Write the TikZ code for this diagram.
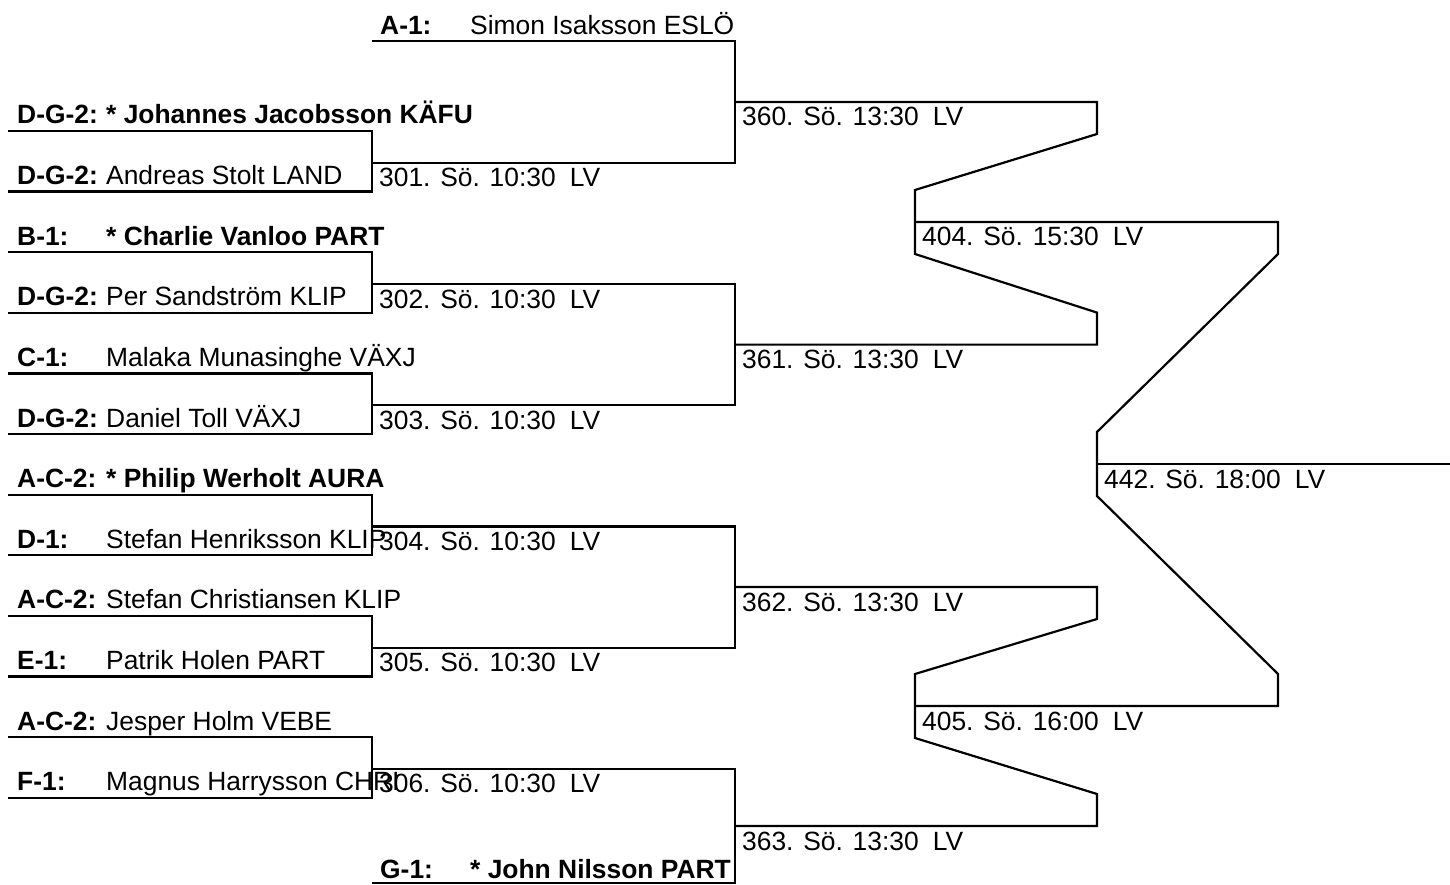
\documentclass[tikz,border=0pt]{standalone}
\usepackage{fontspec}
\setmainfont{Liberation Sans}
\tikzset{
  bar/.style={line width=2.2pt},
  txt/.style={anchor=base west, inner sep=0pt, font=\fontsize{26.4}{30}\selectfont},
  grp/.style={txt, font=\fontsize{26.4}{30}\selectfont\bfseries},
  player/.style={txt},
  seed/.style={grp},
  game/.style={txt}
}
\begin{document}
\begin{tikzpicture}[x=1pt, y=-1pt]
\useasboundingbox (0,0) rectangle (1450,885);
% slots
\coordinate (s1a) at (372,40.7); \coordinate (s1b) at (735,40.7);
\coordinate (s2a) at (8,131); \coordinate (s2b) at (372,131);
\coordinate (s3a) at (8,191.6); \coordinate (s3b) at (372,191.6);
\coordinate (s4a) at (8,252.2); \coordinate (s4b) at (372,252.2);
\coordinate (s5a) at (8,312.8); \coordinate (s5b) at (372,312.8);
\coordinate (s6a) at (8,373.4); \coordinate (s6b) at (372,373.4);
\coordinate (s7a) at (8,434); \coordinate (s7b) at (372,434);
\coordinate (s8a) at (8,494.6); \coordinate (s8b) at (372,494.6);
\coordinate (s9a) at (8,555.2); \coordinate (s9b) at (372,555.2);
\coordinate (s10a) at (8,615.8); \coordinate (s10b) at (372,615.8);
\coordinate (s11a) at (8,676.4); \coordinate (s11b) at (372,676.4);
\coordinate (s12a) at (8,737); \coordinate (s12b) at (372,737);
\coordinate (s13a) at (8,797.6); \coordinate (s13b) at (372,797.6);
\coordinate (s14a) at (372,883); \coordinate (s14b) at (735,883);
% games
\coordinate (m301a) at (372,162.8); \coordinate (m301b) at (735,162.8);
\coordinate (m302a) at (372,284); \coordinate (m302b) at (735,284);
\coordinate (m303a) at (372,405.2); \coordinate (m303b) at (735,405.2);
\coordinate (m304a) at (372,526.4); \coordinate (m304b) at (735,526.4);
\coordinate (m305a) at (372,647.6); \coordinate (m305b) at (735,647.6);
\coordinate (m306a) at (372,768.8); \coordinate (m306b) at (735,768.8);
\coordinate (m360a) at (735,102); \coordinate (m360b) at (1097,102);
\coordinate (m361a) at (735,344.6); \coordinate (m361b) at (1097,344.6);
\coordinate (m362a) at (735,587); \coordinate (m362b) at (1097,587);
\coordinate (m363a) at (735,826); \coordinate (m363b) at (1097,826);
\coordinate (m404a) at (915,222); \coordinate (m404b) at (1278,222);
\coordinate (m405a) at (915,706); \coordinate (m405b) at (1278,706);
\coordinate (m442a) at (1097,464); \coordinate (fin) at (1450,464);

% first round
\draw[bar] (s2a) -- (s2b) -- (s3b) -- (s3a);
\draw[bar] (s4a) -- (s4b) -- (s5b) -- (s5a);
\draw[bar] (s6a) -- (s6b) -- (s7b) -- (s7a);
\draw[bar] (s8a) -- (s8b) -- (s9b) -- (s9a);
\draw[bar] (s10a) -- (s10b) -- (s11b) -- (s11a);
\draw[bar] (s12a) -- (s12b) -- (s13b) -- (s13a);
% second round
\draw[bar] (s1a) -- (s1b) -- (m301b) -- (m301a);
\draw[bar] (m302a) -- (m302b) -- (m303b) -- (m303a);
\draw[bar] (m304a) -- (m304b) -- (m305b) -- (m305a);
\draw[bar] (m306a) -- (m306b) -- (s14b) -- (s14a);
% third round
\draw[bar] (m360a) -- (m360b) -- ++(0,32) -- ([yshift=32pt]m404a) -- ([yshift=-32pt]m404a) -- ([yshift=32pt]m361b) -- (m361b) -- (m361a);
\draw[bar] (m362a) -- (m362b) -- ++(0,32) -- ([yshift=32pt]m405a) -- ([yshift=-32pt]m405a) -- ([yshift=32pt]m363b) -- (m363b) -- (m363a);
% final
\draw[bar] (m404a) -- (m404b) -- ++(0,32) -- ([yshift=32pt]m442a) -- ([yshift=-32pt]m442a) -- ([yshift=32pt]m405b) -- (m405b) -- (m405a);
\draw[bar] (m442a) -- (fin);

% players
\node[grp] (g1) at ([shift={(8,-6)}]s1a) {A-1:};
\node[player] (p1) at ([shift={(98,-6)}]s1a) {Simon Isaksson ESLÖ};
\node[grp] (g2) at ([shift={(9,-7)}]s2a) {D-G-2:};
\node[seed] (p2) at ([shift={(98,-7)}]s2a) {* Johannes Jacobsson KÄFU};
\node[grp] (g3) at ([shift={(9,-7)}]s3a) {D-G-2:};
\node[player] (p3) at ([shift={(98,-7)}]s3a) {Andreas Stolt LAND};
\node[grp] (g4) at ([shift={(9,-7)}]s4a) {B-1:};
\node[seed] (p4) at ([shift={(98,-7)}]s4a) {* Charlie Vanloo PART};
\node[grp] (g5) at ([shift={(9,-7)}]s5a) {D-G-2:};
\node[player] (p5) at ([shift={(98,-7)}]s5a) {Per Sandström KLIP};
\node[grp] (g6) at ([shift={(9,-7)}]s6a) {C-1:};
\node[player] (p6) at ([shift={(98,-7)}]s6a) {Malaka Munasinghe VÄXJ};
\node[grp] (g7) at ([shift={(9,-7)}]s7a) {D-G-2:};
\node[player] (p7) at ([shift={(98,-7)}]s7a) {Daniel Toll VÄXJ};
\node[grp] (g8) at ([shift={(9,-7)}]s8a) {A-C-2:};
\node[seed] (p8) at ([shift={(98,-7)}]s8a) {* Philip Werholt AURA};
\node[grp] (g9) at ([shift={(9,-7)}]s9a) {D-1:};
\node[player] (p9) at ([shift={(98,-7)}]s9a) {Stefan Henriksson KLIP};
\node[grp] (g10) at ([shift={(9,-7)}]s10a) {A-C-2:};
\node[player] (p10) at ([shift={(98,-7)}]s10a) {Stefan Christiansen KLIP};
\node[grp] (g11) at ([shift={(9,-7)}]s11a) {E-1:};
\node[player] (p11) at ([shift={(98,-7)}]s11a) {Patrik Holen PART};
\node[grp] (g12) at ([shift={(9,-7)}]s12a) {A-C-2:};
\node[player] (p12) at ([shift={(98,-7)}]s12a) {Jesper Holm VEBE};
\node[grp] (g13) at ([shift={(9,-7)}]s13a) {F-1:};
\node[player] (p13) at ([shift={(98,-7)}]s13a) {Magnus Harrysson CHRI};
\node[grp] (g14) at ([shift={(8,-5)}]s14a) {G-1:};
\node[seed] (p14) at ([shift={(98,-5)}]s14a) {* John Nilsson PART};

% game labels
\node[game] (l301) at ([shift={(7,24)}]m301a) {301. Sö. 10:30\hspace{14pt}LV};
\node[game] (l302) at ([shift={(7,24)}]m302a) {302. Sö. 10:30\hspace{14pt}LV};
\node[game] (l303) at ([shift={(7,24)}]m303a) {303. Sö. 10:30\hspace{14pt}LV};
\node[game] (l304) at ([shift={(7,24)}]m304a) {304. Sö. 10:30\hspace{14pt}LV};
\node[game] (l305) at ([shift={(7,24)}]m305a) {305. Sö. 10:30\hspace{14pt}LV};
\node[game] (l306) at ([shift={(7,24)}]m306a) {306. Sö. 10:30\hspace{14pt}LV};
\node[game] (l360) at ([shift={(7,24)}]m360a) {360. Sö. 13:30\hspace{14pt}LV};
\node[game] (l361) at ([shift={(7,24)}]m361a) {361. Sö. 13:30\hspace{14pt}LV};
\node[game] (l362) at ([shift={(7,24)}]m362a) {362. Sö. 13:30\hspace{14pt}LV};
\node[game] (l363) at ([shift={(7,24)}]m363a) {363. Sö. 13:30\hspace{14pt}LV};
\node[game] (l404) at ([shift={(7,24)}]m404a) {404. Sö. 15:30\hspace{14pt}LV};
\node[game] (l405) at ([shift={(7,24)}]m405a) {405. Sö. 16:00\hspace{14pt}LV};
\node[game] (l442) at ([shift={(7,24)}]m442a) {442. Sö. 18:00\hspace{14pt}LV};
\end{tikzpicture}
\end{document}
